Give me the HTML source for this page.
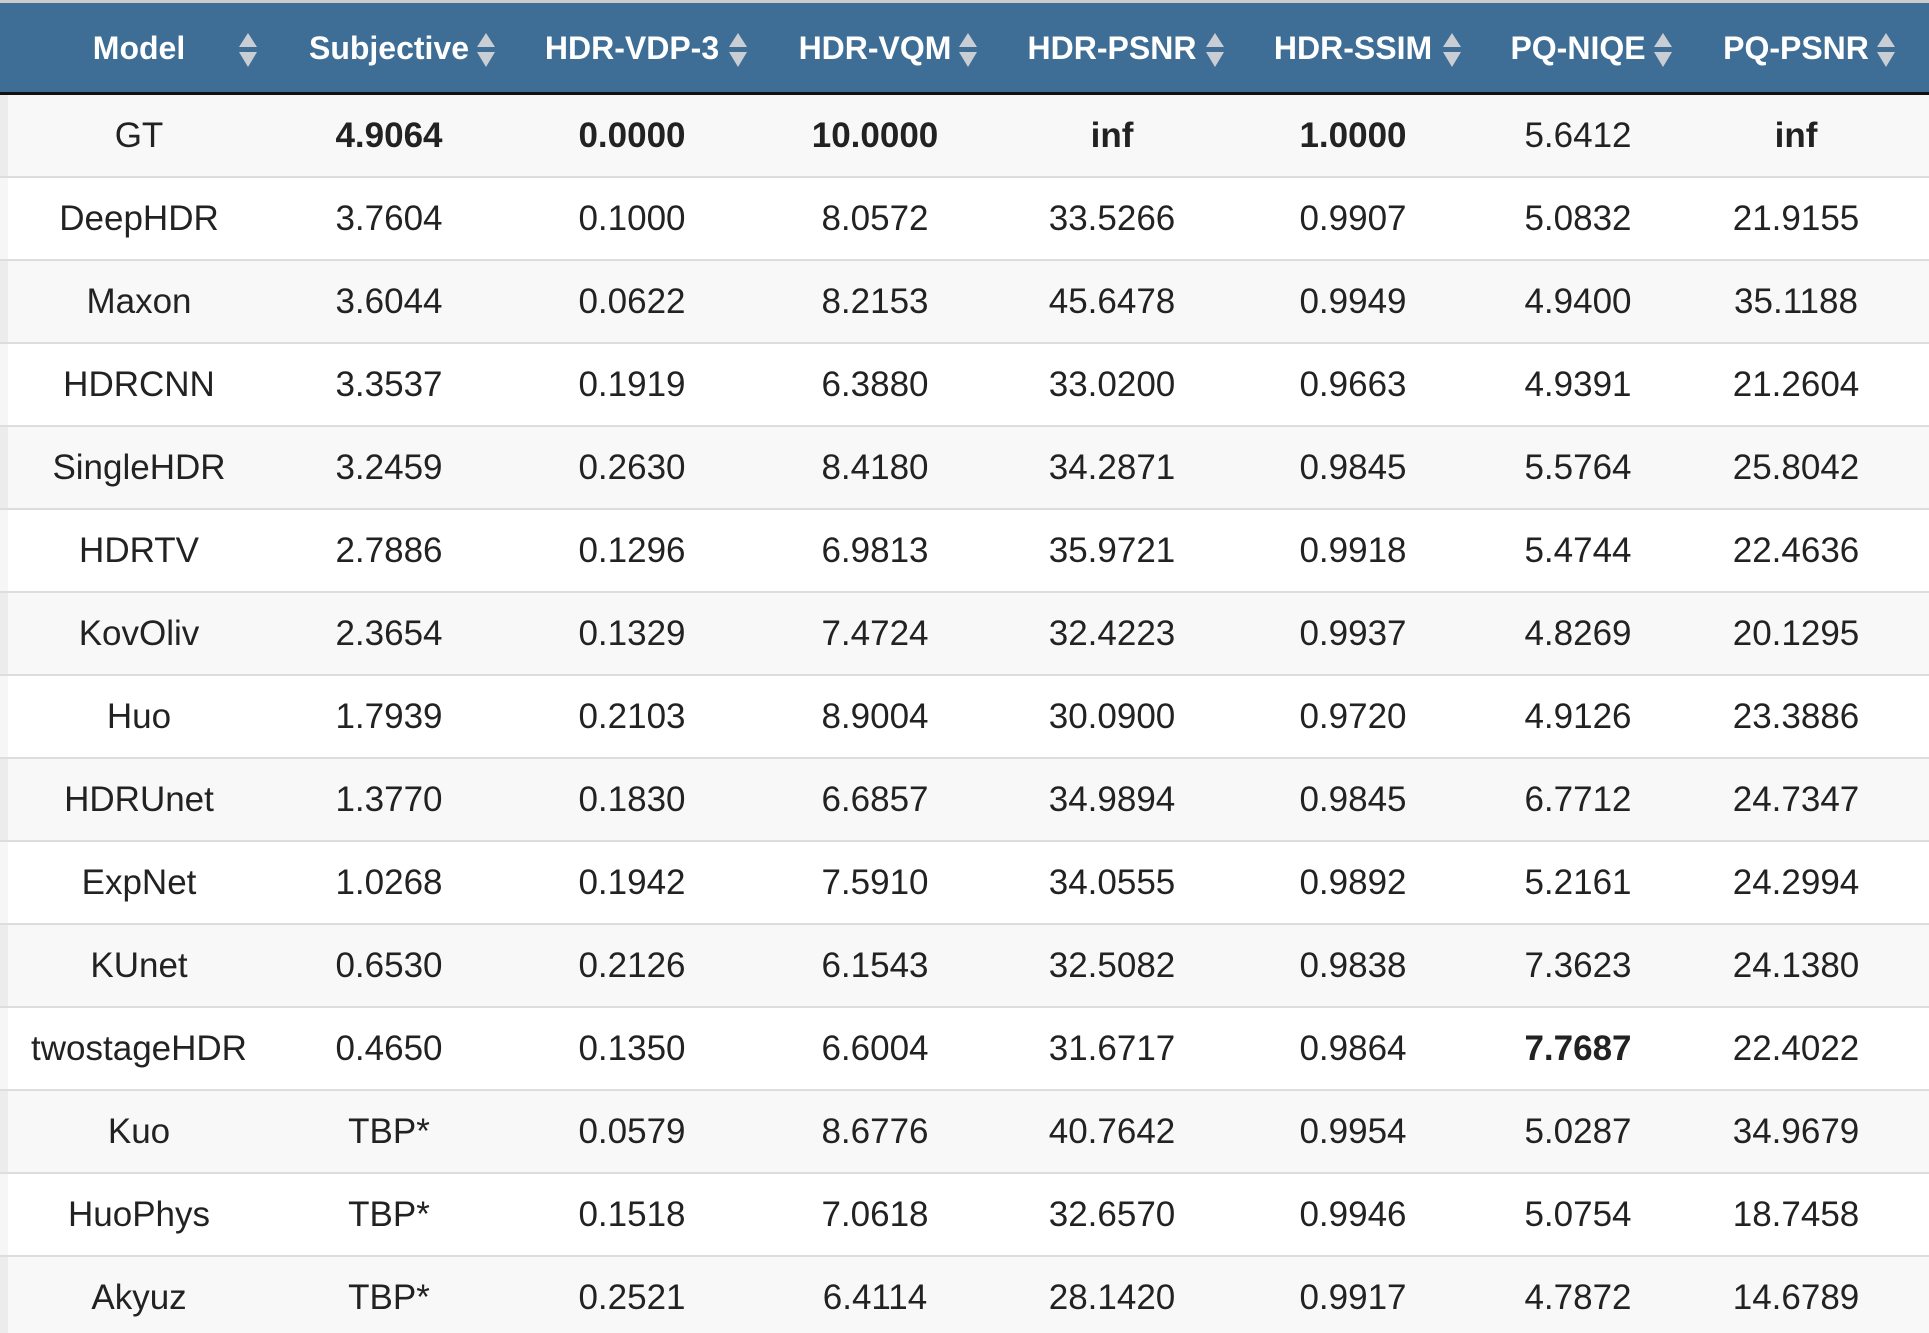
<!DOCTYPE html>
<html><head><meta charset="utf-8">
<style>
html,body{margin:0;padding:0;width:1929px;height:1333px;overflow:hidden;background:#fff;font-family:"Liberation Sans",Arial,sans-serif;}
#wrap{position:relative;width:1929px;height:1333px;}
#hdr{position:absolute;left:0;top:0;width:1929px;background:#3e6e96;border-top:3px solid #ccc;box-sizing:border-box;border-bottom:3px solid #111;height:95px;}
.h{position:absolute;top:0;height:92px;line-height:90px;color:#fff;font-weight:bold;font-size:32px;text-align:center;transform:translateX(-50%);white-space:nowrap;}
.ic{position:absolute;top:30px;width:18px;height:34px;transform:translateX(-50%);}
.row{position:absolute;left:0;width:1929px;box-sizing:border-box;border-bottom:2px solid #ddd;}
.c{position:absolute;top:0;transform:translateX(-50%);white-space:nowrap;font-size:35px;color:#222;}
.lb{position:absolute;left:0;top:0;width:8px;height:100%;background:#ececec;}
</style></head><body>
<div id="wrap">
<div id="hdr"></div>
<div id="body"></div>
</div>
<script>
const headers=["Model","Subjective","HDR-VDP-3","HDR-VQM","HDR-PSNR","HDR-SSIM","PQ-NIQE","PQ-PSNR"];
const models=["GT","DeepHDR","Maxon","HDRCNN","SingleHDR","HDRTV","KovOliv","Huo","HDRUnet","ExpNet","KUnet","twostageHDR","Kuo","HuoPhys","Akyuz"];
const subjective=["4.9064","3.7604","3.6044","3.3537","3.2459","2.7886","2.3654","1.7939","1.3770","1.0268","0.6530","0.4650","TBP*","TBP*","TBP*"];
const vdp=["0.0000","0.1000","0.0622","0.1919","0.2630","0.1296","0.1329","0.2103","0.1830","0.1942","0.2126","0.1350","0.0579","0.1518","0.2521"];
const vqm=["10.0000","8.0572","8.2153","6.3880","8.4180","6.9813","7.4724","8.9004","6.6857","7.5910","6.1543","6.6004","8.6776","7.0618","6.4114"];
const psnr=["inf","33.5266","45.6478","33.0200","34.2871","35.9721","32.4223","30.0900","34.9894","34.0555","32.5082","31.6717","40.7642","32.6570","28.1420"];
const ssim=["1.0000","0.9907","0.9949","0.9663","0.9845","0.9918","0.9937","0.9720","0.9845","0.9892","0.9838","0.9864","0.9954","0.9946","0.9917"];
const niqe=["5.6412","5.0832","4.9400","4.9391","5.5764","5.4744","4.8269","4.9126","6.7712","5.2161","7.3623","7.7687","5.0287","5.0754","4.7872"];
const pqpsnr=["inf","21.9155","35.1188","21.2604","25.8042","22.4636","20.1295","23.3886","24.7347","24.2994","24.1380","22.4022","34.9679","18.7458","14.6789"];
const boldCells=[[0,1],[0,2],[0,3],[0,4],[0,5],[0,7],[11,6]];
const centers=[139,389,632,875,1112,1353,1578,1796];
const iconX=[248,486,738,968,1215,1452,1663,1886];
const hdr=document.getElementById('hdr');
headers.forEach((h,i)=>{
  const d=document.createElement('div');d.className='h';d.style.left=centers[i]+'px';d.textContent=h;
  
  
  hdr.appendChild(d);
  const ic=document.createElementNS('http://www.w3.org/2000/svg','svg');
  ic.setAttribute('class','ic');ic.setAttribute('viewBox','0 0 18 34');
  ic.style.left=iconX[i]+'px';
  ic.innerHTML='<path d="M9 0 L18 14 L0 14 Z" fill="#c9ced4"/><path d="M9 34 L18 19 L0 19 Z" fill="#c9ced4"/>';
  
  
  hdr.appendChild(ic);
});
const body=document.getElementById('body');
const top0=95,rh=83;
const cols=[models,subjective,vdp,vqm,psnr,ssim,niqe,pqpsnr];
models.forEach((m,r)=>{
  const row=document.createElement('div');row.className='row';
  row.style.top=(top0+r*rh)+'px';row.style.height=rh+'px';
  row.style.background=(r%2===0)?'#f8f8f8':'#fff';
  
  
  const lb=document.createElement('div');lb.className='lb';if(r%2)lb.style.background='#f6f6f6';row.appendChild(lb);
  cols.forEach((col,c)=>{
    const d=document.createElement('div');d.className='c';
    d.style.left=centers[c]+'px';d.style.lineHeight=(rh-2)+'px';
    d.textContent=col[r];
    if(boldCells.some(b=>b[0]===r&&b[1]===c))d.style.fontWeight='bold';
    
    
    row.appendChild(d);
  });
  body.appendChild(row);
});
</script>
</body></html>
